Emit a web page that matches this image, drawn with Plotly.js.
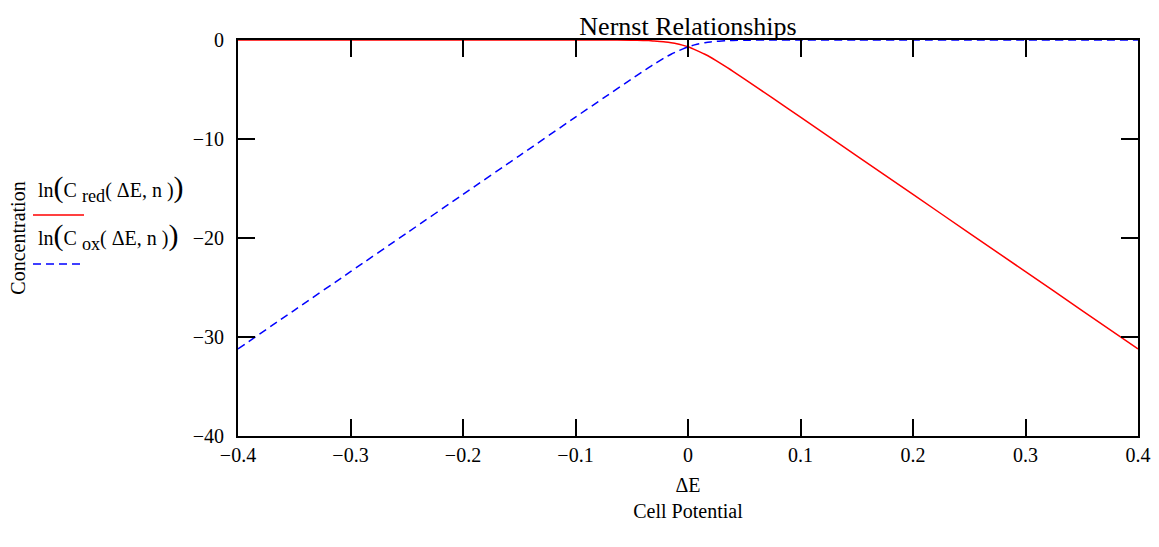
<!DOCTYPE html>
<html>
<head>
<meta charset="utf-8">
<script src="https://cdn.plot.ly/plotly-3.0.1.min.js"></script>
<style>html,body{margin:0;padding:0;background:#fff;}#chart{width:1159px;height:547px;}</style>
</head>
<body>
<div id="chart"></div>
<script>
// Values
const deltaE = [-0.4, -0.35, -0.3, -0.25, -0.2, -0.15, -0.1, -0.075, -0.05, -0.04, -0.035, -0.03, -0.025, -0.02, -0.015, -0.01, -0.005, 0,
                 0.005, 0.01, 0.015, 0.02, 0.025, 0.03, 0.035, 0.04, 0.05, 0.075, 0.1, 0.15, 0.2, 0.25, 0.3, 0.35, 0.4];
const lnCred = [0, 0, 0, 0, 0, 0, 0, 0, -0.02, -0.04, -0.06, -0.1, -0.14, -0.19, -0.27, -0.37, -0.52, -0.69,
                -0.92, -1.17, -1.44, -1.74, -2.08, -2.43, -2.79, -3.16, -3.92, -5.85, -7.79, -11.7, -15.6, -19.5, -23.4, -27.3, -31.2];
const lnCox = [-31.2, -27.3, -23.4, -19.5, -15.6, -11.7, -7.79, -5.85, -3.92, -3.16, -2.79, -2.43, -2.08, -1.74, -1.44, -1.17, -0.92, -0.69,
               -0.52, -0.37, -0.27, -0.19, -0.14, -0.1, -0.06, -0.04, -0.02, 0, 0, 0, 0, 0, 0, 0, 0];
const xTicks = [-0.4, -0.3, -0.2, -0.1, 0, 0.1, 0.2, 0.3, 0.4];
const yTicks = [0, -10, -20, -30, -40];
const bigParen = s => '<span style="font-size:30px">' + s + '</span>';
const legendRed = 'ln' + bigParen('(') + 'C <span style="font-size:26px"><sub>red</sub></span>( ΔE, n )' + bigParen(')');
const legendOx = 'ln' + bigParen('(') + 'C <span style="font-size:26px"><sub>ox</sub></span>( ΔE, n )' + bigParen(')');

const FONT = 'Liberation Serif, Times New Roman, serif';
// layout geometry (pixels)
const L = 238, R = 21, T = 40, B = 111, W = 1159, H = 547;
const plotW = W - L - R, plotH = H - T - B;
const px = p => (p - L) / plotW;
const py = p => 1 - (p - T) / plotH;

const traces = [
  {x: deltaE, y: lnCred, type: 'scatter', mode: 'lines', name: 'ln(C red(ΔE, n))',
   line: {color: '#ff0000', width: 1.5, shape: 'spline', smoothing: 0.6}, showlegend: false},
  {x: deltaE, y: lnCox, type: 'scatter', mode: 'lines', name: 'ln(C ox(ΔE, n))',
   line: {color: '#0000ff', width: 1.5, dash: '8px,5px', shape: 'spline', smoothing: 0.6}, showlegend: false}
];

const layout = {
  width: W, height: H,
  margin: {l: L, r: R, t: T, b: B},
  paper_bgcolor: '#fff', plot_bgcolor: '#fff',
  font: {family: FONT, size: 20, color: '#000'},
  title: {text: 'Nernst Relationships', font: {family: FONT, size: 26, color: '#000'},
          x: 0.5, xref: 'paper', y: 1 - 26/H, yref: 'container', yanchor: 'middle'},
  xaxis: {range: [-0.4, 0.4], tickvals: xTicks,
          ticktext: xTicks.map(v => v === 0 ? '0' : (v < 0 ? '\u2212' + Math.abs(v).toFixed(1) : v.toFixed(1))),
          showgrid: false, zeroline: false, showline: true, linecolor: '#000', linewidth: 2, mirror: 'ticks',
          ticks: 'inside', ticklen: 17, tickwidth: 2, tickcolor: '#000',
          tickfont: {family: FONT, size: 20}, ticklabelstandoff: 0,
          title: {text: 'ΔE<br>Cell Potential', font: {family: FONT, size: 20}, standoff: 13}},
  yaxis: {range: [-40, 0], tickvals: yTicks, ticktext: yTicks.map(v => v === 0 ? '0' : '\u2212' + Math.abs(v)),
          showgrid: false, zeroline: false, showline: true, linecolor: '#000', linewidth: 2, mirror: 'ticks',
          ticks: 'inside', ticklen: 17, tickwidth: 2, tickcolor: '#000',
          tickfont: {family: FONT, size: 20}, ticklabelstandoff: 8,
          title: {text: 'Concentration', font: {family: FONT, size: 20}, standoff: 162}},
  annotations: [
    {text: legendRed, xref: 'paper', yref: 'paper', x: px(36), y: py(188),
     xanchor: 'left', yanchor: 'middle', showarrow: false, font: {family: FONT, size: 20}},
    {text: legendOx, xref: 'paper', yref: 'paper', x: px(36), y: py(236),
     xanchor: 'left', yanchor: 'middle', showarrow: false, font: {family: FONT, size: 20}}
  ],
  shapes: [
    {type: 'line', xref: 'paper', yref: 'paper', x0: px(33), x1: px(84), y0: py(215), y1: py(215),
     line: {color: '#ff0000', width: 1.5}},
    {type: 'line', xref: 'paper', yref: 'paper', x0: px(33), x1: px(84), y0: py(264), y1: py(264),
     line: {color: '#0000ff', width: 1.5, dash: '8px,5px'}}
  ]
};

Plotly.newPlot('chart', traces, layout, {staticPlot: true, displayModeBar: false});
</script>
</body>
</html>
